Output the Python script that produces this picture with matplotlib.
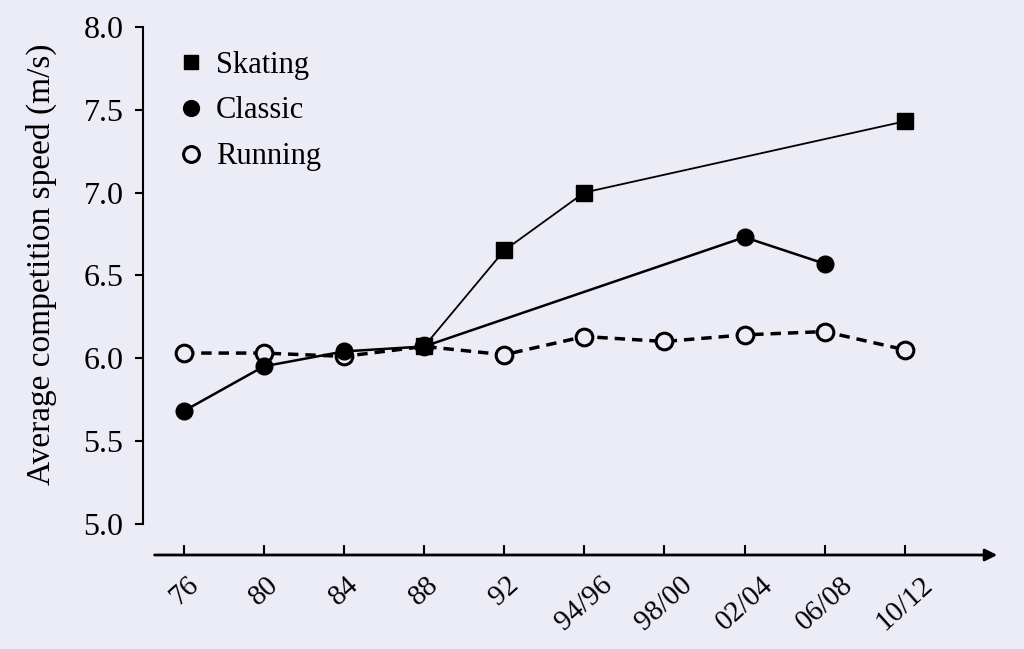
import matplotlib.pyplot as plt

bg = '#ececf6'
plt.rcParams['font.family'] = ['Liberation Serif', 'DejaVu Serif']

labels = ['76', '80', '84', '88', '92', '94/96', '98/00', '02/04', '06/08', '10/12']

skating_x = [3, 4, 5, 9]
skating_y = [6.07, 6.65, 7.00, 7.43]

classic_x = [0, 1, 2, 3, 7, 8]
classic_y = [5.68, 5.95, 6.04, 6.07, 6.73, 6.57]

running_x = list(range(10))
running_y = [6.03, 6.03, 6.01, 6.07, 6.02, 6.13, 6.10, 6.14, 6.16, 6.05]

fig = plt.figure(figsize=(10.24, 6.49), dpi=100, facecolor=bg)
ax = fig.add_axes([143 / 1024, 1 - 555 / 649, (1000 - 143) / 1024, (555 - 27) / 649])
ax.set_facecolor(bg)

ax.plot(running_x, running_y, color='black', linestyle='--', linewidth=2.5, dashes=(3, 2),
        marker='o', markersize=12, markerfacecolor=bg, markeredgecolor='black',
        markeredgewidth=2.2, label='Running', zorder=2)
ax.plot(classic_x, classic_y, color='black', linewidth=1.8, marker='o', markersize=12,
        markerfacecolor='black', markeredgecolor='black', label='Classic', zorder=3)
ax.plot(skating_x, skating_y, color='black', linewidth=1.3, marker='s', markersize=11,
        markerfacecolor='black', markeredgecolor='black', label='Skating', zorder=4)

ax.set_xlim(-0.51, 10.19)
ax.set_ylim(4.81, 8.0)

for s in ['top', 'right', 'bottom']:
    ax.spines[s].set_visible(False)
ax.spines['left'].set_bounds(5.0, 8.0)
ax.spines['left'].set_linewidth(1.5)

ax.set_yticks([5.0, 5.5, 6.0, 6.5, 7.0, 7.5, 8.0])
ax.set_yticklabels(['5.0', '5.5', '6.0', '6.5', '7.0', '7.5', '8.0'], fontsize=23)
ax.tick_params(axis='y', direction='out', length=6, width=1.5, pad=8)

ax.set_xticks(running_x)
ax.set_xticklabels(labels, rotation=42, fontsize=21, ha='center', va='top')
ax.tick_params(axis='x', direction='in', length=7, width=1.5, pad=12)

# detached x axis line with arrow
ax.annotate('', xy=(10.19, 4.81), xytext=(-0.4, 4.81),
            arrowprops=dict(arrowstyle='-|>', color='black', lw=2, mutation_scale=18),
            annotation_clip=False)

ax.set_ylabel('Average competition speed (m/s)', fontsize=24)
ax.yaxis.set_label_coords(-0.10, 0.55)

handles, lbls = ax.get_legend_handles_labels()
order = [2, 1, 0]
leg = ax.legend([handles[i] for i in order], [lbls[i] for i in order],
                loc='upper left', bbox_to_anchor=(0.035, 0.99), frameon=False,
                fontsize=22, handlelength=0, handletextpad=0.8, labelspacing=0.55,
                markerscale=0.95, borderaxespad=0.2)
for h in leg.legend_handles:
    h.set_linestyle('None')

fig.savefig('out.png', dpi=100, facecolor=bg)
